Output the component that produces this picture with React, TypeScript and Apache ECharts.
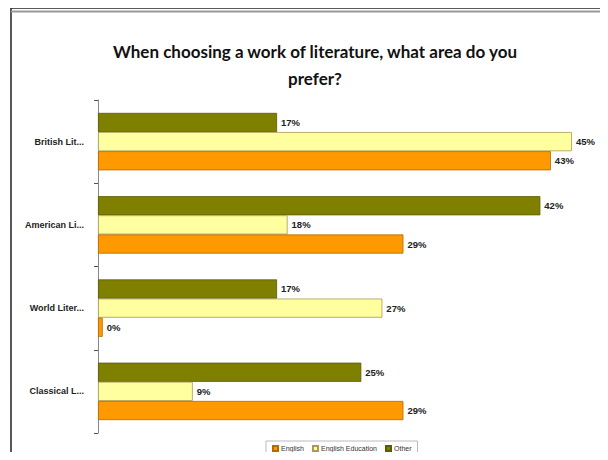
import React, { useEffect, useRef } from "react";
import * as echarts from "echarts";

const categories = ["British Lit...", "American Li...", "World Liter...", "Classical L..."];
const seriesNames = ["English", "English Education", "Other"];
const english = [43, 29, 0.45, 29];
const englishEducation = [45, 18, 27, 9];
const other = [17, 42, 17, 25];
const colors = ["#ff9900", "#ffff9f", "#808000"];
const borders = ["#b56a00", "#a89a50", "#5a5a00"];

export default function App() {
  const ref = useRef<HTMLDivElement>(null);
  useEffect(() => {
    const chart = echarts.init(ref.current!, null, { renderer: "svg" });
    const data = [english, englishEducation, other];
    const order = [2, 1, 0];
    chart.setOption({
      animation: false,
      backgroundColor: "#ffffff",
      title: {
        text: "When choosing a work of literature, what area do you\nprefer?",
        left: 310,
        textAlign: "center",
        top: 33,
        textStyle: {
          fontFamily: "Lato",
          fontWeight: "bold",
          fontSize: 17,
          lineHeight: 27,
          color: "#111",
        },
      },
      legend: {
        data: seriesNames,
        left: 266,
        top: 441,
        itemWidth: 5,
        itemHeight: 5,
        itemGap: 8,
        padding: [4, 6],
        borderColor: "#bbbbbb",
        borderWidth: 1,
        icon: "rect",
        textStyle: { fontSize: 7, fontFamily: "Liberation Sans", color: "#333", padding: [0, 0, 0, -2] },
      },
      grid: { left: 98, top: 100, width: 495, height: 333, containLabel: false },
      xAxis: {
        type: "value",
        min: 0,
        max: 47,
        show: false,
      },
      yAxis: {
        type: "category",
        data: categories,
        inverse: true,
        axisLine: { show: true, lineStyle: { color: "#888", width: 1 } },
        axisTick: { show: true, length: 4, lineStyle: { color: "#555", width: 1 } },
        axisLabel: {
          fontSize: 9,
          fontWeight: "bold",
          fontFamily: "Liberation Sans",
          color: "#222",
          margin: 14,
        },
      },
      series: order.map((i) => ({
        name: seriesNames[i],
        type: "bar",
        data: data[i],
        barGap: "0%",
        barCategoryGap: "31%",
        itemStyle: { color: colors[i], borderColor: borders[i], borderWidth: 0.8 },
        label: {
          show: true,
          position: "right",
          distance: 4,
          formatter: (p: any) => Math.round(p.value) + "%",
          fontSize: 9.5,
          fontWeight: "bold",
          fontFamily: "Liberation Sans",
          color: "#222",
        },
      })),
      graphic: [
        { type: "rect", shape: { x: 11, y: 8, width: 595, height: 450 }, style: { fill: "none", stroke: "#222", lineWidth: 1.5 }, z: 100 },
        { type: "line", shape: { x1: 11, y1: 11.5, x2: 606, y2: 11.5 }, style: { stroke: "#999", lineWidth: 2 }, z: 100 },
      ],
    });
    return () => chart.dispose();
  }, []);
  return <div ref={ref} style={{ width: 608, height: 460, margin: -8 }} />;
}
